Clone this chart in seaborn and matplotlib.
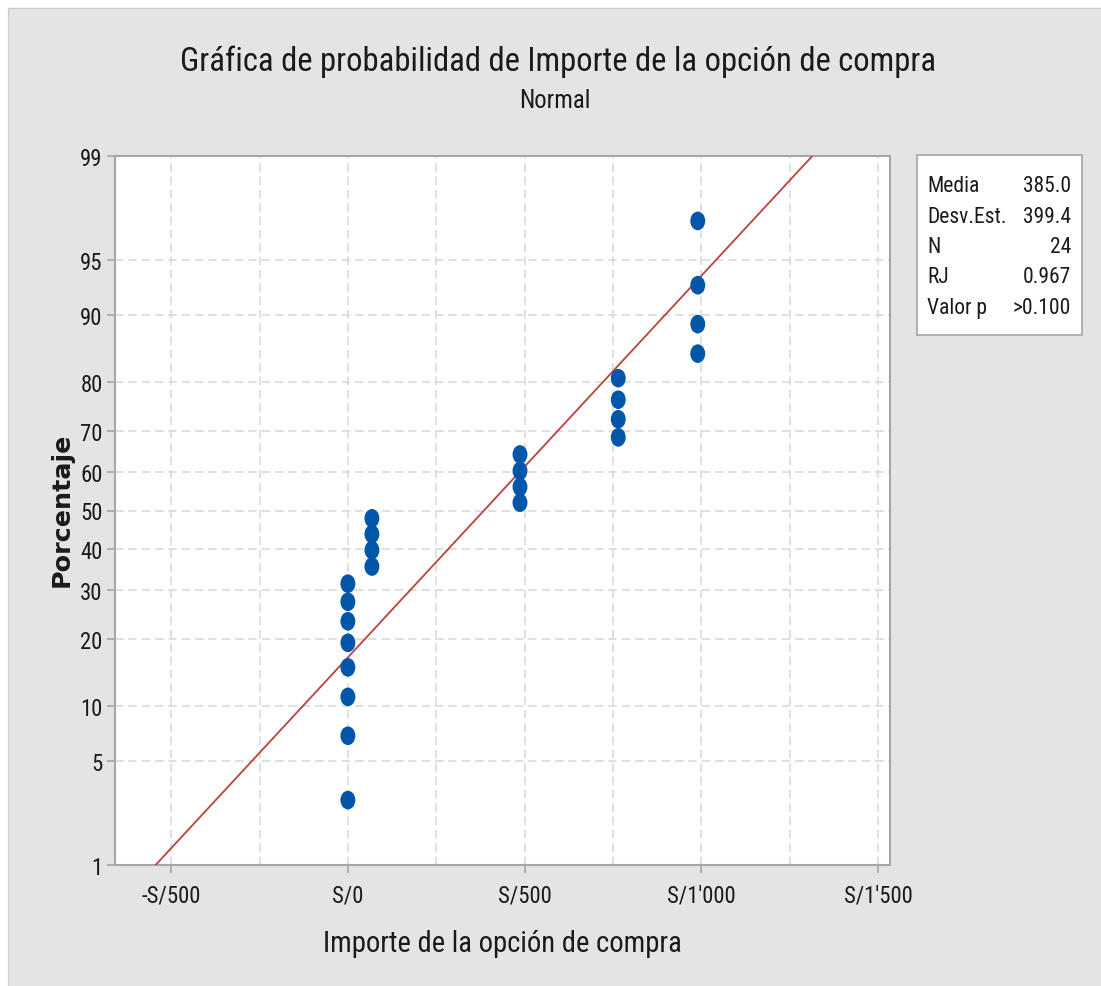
"""Normal probability plot (Minitab style) for 'Importe de la opción de compra'."""

from statistics import NormalDist

import matplotlib
matplotlib.use("Agg")
import matplotlib.pyplot as plt
from matplotlib import font_manager
from matplotlib.font_manager import FontProperties
from matplotlib.patches import Rectangle
from matplotlib.path import Path
from matplotlib.transforms import Affine2D
import numpy as np
import pandas as pd
import seaborn as sns


# observed amounts (24 values, sorted)
amounts = [0] * 8 + [68] * 4 + [487] * 4 + [765] * 4 + [990] * 4

# fitted normal parameters / summary shown in the box
mean_fit = 385.0
sd_fit = 399.4
stat_labels = ["Media", "Desv.Est.", "N", "RJ", "Valor p"]
stat_values = ["385.0", "399.4", "24", "0.967", ">0.100"]

y_ticks = [1, 5, 10, 20, 30, 40, 50, 60, 70, 80, 90, 95, 99]
x_ticks = [-500, 0, 500, 1000, 1500]
x_ticklabels = ["-S/500", "S/0", "S/500", "S/1'000", "S/1'500"]
x_minor = [-250, 250, 750, 1250]

TITLE = "Gráfica de probabilidad de Importe de la opción de compra"


def narrow_font_file():
    """Look for an installed narrow / condensed regular sans face."""
    prefs = ["Liberation Sans Narrow", "Noto Sans", "Open Sans", "Roboto",
             "Lato", "Inter", "DejaVu Sans"]
    found = {}
    for f in font_manager.fontManager.ttflist:
        st = f.stretch
        cond = ("condensed" in st) if isinstance(st, str) else st < 500
        if "Narrow" in f.name or "Condensed" in f.name:
            cond = True
        w = f.weight
        regular = w in (400, "normal", "regular", "book")
        if cond and regular and f.style == "normal" and "Extra" not in str(st):
            found.setdefault(f.name, f.fname)
    for p in prefs:
        for name, path in found.items():
            if name.startswith(p):
                return path
    return None


sns.set_style("ticks")
_path = narrow_font_file()


def fp(size):
    if _path:
        return FontProperties(fname=_path, size=size)
    return FontProperties(family=["Roboto", "DejaVu Sans"], size=size)


nd = NormalDist()
_ppf = np.vectorize(lambda p: nd.inv_cdf(min(max(p / 100.0, 1e-9), 1 - 1e-9)),
                    otypes=[float])
_cdf = np.vectorize(lambda z: nd.cdf(z) * 100.0, otypes=[float])

# Benard median ranks
n = len(amounts)
pct = [(i - 0.3) / (n + 0.4) * 100 for i in range(1, n + 1)]
df = pd.DataFrame({"x": amounts, "p": pct})

line_p = np.array([0.5, 1, 50, 99, 99.5])
line_df = pd.DataFrame({"p": line_p,
                        "x": mean_fit + sd_fit * _ppf(line_p)})

W, H = 1101, 987
fig = plt.figure(figsize=(W / 100, H / 100), dpi=100, facecolor="white")
renderer = fig.canvas.get_renderer()

# scale factor so the condensed face matches the reference title width
probe = fig.text(0, 0, TITLE, fontproperties=fp(20))
k = 753.0 / probe.get_window_extent(renderer).width
probe.remove()

fig.add_artist(Rectangle((8 / W, -0.01), 1, 1 - 9 / H + 0.01,
                         transform=fig.transFigure, facecolor="#e4e4e4",
                         edgecolor="#cdcdcd", lw=1.0, zorder=-5))

ax = fig.add_axes([115 / W, 1 - 866 / H, 775 / W, 709 / H])
ax.set_facecolor("white")
ax.set_yscale("function", functions=(_ppf, _cdf))

ellipse = Path.unit_circle().transformed(Affine2D().scale(0.8, 1.0))
sns.lineplot(data=line_df, x="x", y="p", ax=ax, color="#b8433e", lw=1.3,
             sort=False, estimator=None, zorder=3)
sns.scatterplot(data=df, x="x", y="p", ax=ax, marker=ellipse, s=180,
                color="#0056a8", edgecolor="none", zorder=4)

ax.set_ylim(1, 99)
ax.set_xlim(-659, 1534)
ax.set_yticks(y_ticks)
ax.set_yticklabels([str(v) for v in y_ticks])
ax.yaxis.set_minor_locator(matplotlib.ticker.NullLocator())
ax.set_xticks(x_ticks)
ax.set_xticklabels(x_ticklabels)
ax.set_xticks(x_minor, minor=True)
for lbl in ax.get_xticklabels() + ax.get_yticklabels():
    lbl.set_fontproperties(fp(20 * k * 0.7))
    lbl.set_color("#1a1a1a")

ax.grid(which="both", axis="both", ls=(0, (5, 3)), color="#d9d9d9", lw=1.2,
        zorder=0)
ax.set_axisbelow(True)
for s in ax.spines.values():
    s.set_color("#a6a6a6")
    s.set_linewidth(1.5)
ax.tick_params(axis="both", which="major", length=6, width=1.2,
               color="#a6a6a6")
ax.tick_params(axis="x", which="major", pad=7)
ax.tick_params(axis="y", which="major", pad=3)
ax.tick_params(axis="x", which="minor", length=0)

ax.set_xlabel("Importe de la opción de compra", fontproperties=fp(20 * k * 0.88),
              color="#1a1a1a")
ax.xaxis.set_label_coords(0.5, -0.09)

ylab_fp = FontProperties(family="DejaVu Sans", weight="bold", size=14)
ylab = ax.set_ylabel("Porcentaje", fontproperties=ylab_fp, color="#1a1a1a")
ylab_len = ylab.get_window_extent(renderer).height
ylab_fp.set_size(14 * 155.0 / ylab_len)
ylab.set_fontproperties(ylab_fp)
ax.yaxis.set_label_coords(-0.053, 0.502)

fig.text(0.507, 1 - 62 / H, TITLE, ha="center", va="center",
         fontproperties=fp(20 * k), color="#1a1a1a")
fig.text(0.504, 1 - 101 / H, "Normal", ha="center", va="center",
         fontproperties=fp(20 * k * 0.76), color="#1a1a1a")

# summary box
fig.add_artist(Rectangle((917 / W, 1 - 336 / H), 165 / W, 180 / H,
                         transform=fig.transFigure, facecolor="white",
                         edgecolor="#a6a6a6", lw=1.2, zorder=1))
for i, (lab, val) in enumerate(zip(stat_labels, stat_values)):
    yy = 1 - (187 + 30.3 * i) / H
    fig.text(927 / W, yy, lab, ha="left", va="center",
             fontproperties=fp(20 * k * 0.66), color="#1a1a1a", zorder=2)
    fig.text(1071 / W, yy, val, ha="right", va="center",
             fontproperties=fp(20 * k * 0.66), color="#1a1a1a", zorder=2)

plt.savefig("out.png", dpi=100, facecolor="white")
plt.close(fig)
